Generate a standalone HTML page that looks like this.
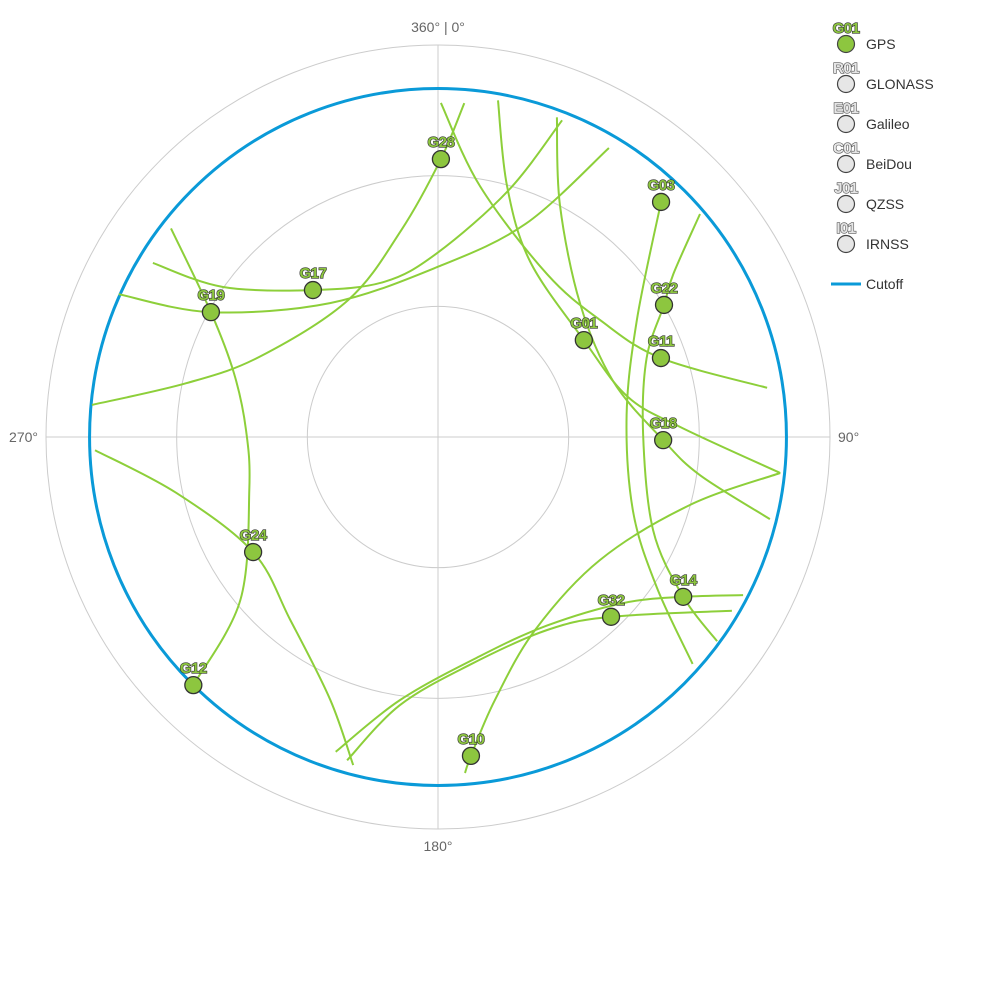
<!DOCTYPE html>
<html><head><meta charset="utf-8"><style>
body{margin:0;background:#fff;}
svg{display:block;font-family:"Liberation Sans",Arial,sans-serif;}
.lbl{font-weight:bold;font-size:15px;fill:#8dc63f;stroke:#333;stroke-width:1.2px;paint-order:stroke;letter-spacing:-0.5px}
.glbl{font-weight:bold;font-size:15px;fill:#e6e6e6;stroke:#555;stroke-width:1.2px;paint-order:stroke;letter-spacing:-0.5px}
</style></head><body>
<svg id="chart" width="1000" height="1000" viewBox="0 0 1000 1000">
<g id="grid"></g>
<g id="tracks"></g>
<g id="sats"></g>
<g id="legend"></g>
</svg>
<script>
const cx=438, cy=437, R=392;
const ringElevations=[60,30,0];
const cutoffElevation=10;
const azimuthLabels=["360° | 0°","90°","180°","270°"];
const satNames=["G28","G03","G22","G01","G11","G18","G14","G32","G10","G12","G24","G19","G17"];
const satAz=[0.6,43.5,59.7,56.4,70.5,90.8,123.1,136.1,174.1,224.6,238.1,298.8,319.6];
const satEl=[26.2,15.6,29.9,49.8,35.7,38.3,22.8,32.7,16.4,10.0,40.0,30.5,45.7];
const trackG28Az=[4.5,0.6,349.9,326.7,294.1,282.1,275.3];
const trackG28El=[13.1,26.2,41.8,52.4,45.0,31.0,10.2];
const trackG17Az=[301.4,304.9,319.6,340.8,359.7,16.0,21.4];
const trackG17El=[13.3,29.8,45.7,52.3,47.8,31.0,11.9];
const trackG19Az=[294.1,298.8,321.1,359.7,22.4,30.6];
const trackG19El=[9.7,30.5,50.5,51.0,37.0,12.9];
const trackG12Az=[308.0,298.8,287.4,272.1,254.3,230.5,224.6];
const trackG12El=[12.2,30.5,40.9,45.9,45.0,31.2,10.0];
const trackG24Az=[267.8,258.0,238.1,218.9,202.3,194.5];
const trackG24El=[11.2,28.5,40.0,36.0,24.8,12.2];
const trackG11Az=[0.5,9.5,33.8,54.2,70.5,81.5];
const trackG11El=[13.3,31.6,45.0,44.1,35.7,13.6];
const trackG01Az=[10.1,15.4,27.7,56.4,77.8,87.6,96.0];
const trackG01El=[11.5,30.3,44.5,49.8,45.6,34.4,11.0];
const trackG18Az=[20.4,27.7,46.9,72.3,90.8,98.3,103.9];
const trackG18El=[11.7,29.8,45.3,47.8,38.3,29.2,11.5];
const trackG10Az=[96.0,105.1,127.2,153.3,167.8,174.1,175.4];
const trackG10El=[11.0,30.1,43.3,40.4,28.2,16.4,12.6];
const trackG03Az=[43.5,59.5,83.4,110.8,124.4,131.7];
const trackG03El=[15.6,37.0,46.4,42.1,29.2,11.7];
const trackG22Az=[49.6,55.3,59.7,69.3,89.2,113.4,123.1,126.2];
const trackG22El=[11.0,24.3,29.9,38.8,42.9,36.2,22.8,10.6];
const trackG14Az=[117.4,123.1,131.9,150.0,169.1,188.2,198.0];
const trackG14El=[11.1,22.8,32.9,40.0,38.8,29.0,14.0];
const trackG32Az=[120.6,136.1,150.5,172.0,188.1,195.7];
const trackG32El=[11.6,32.7,39.1,37.2,27.8,12.9];
const trackNames=["G28","G17","G19","G12","G24","G11","G01","G18","G10","G03","G22","G14","G32"];
const trackAz=[trackG28Az,trackG17Az,trackG19Az,trackG12Az,trackG24Az,trackG11Az,trackG01Az,trackG18Az,trackG10Az,trackG03Az,trackG22Az,trackG14Az,trackG32Az];
const trackEl=[trackG28El,trackG17El,trackG19El,trackG12El,trackG24El,trackG11El,trackG01El,trackG18El,trackG10El,trackG03El,trackG22El,trackG14El,trackG32El];
const legendLabels=["G01","R01","E01","C01","J01","I01"];
const legendNames=["GPS","GLONASS","Galileo","BeiDou","QZSS","IRNSS"];

const NS="http://www.w3.org/2000/svg";
function rScale(el){return R*(90-el)/90;}
function px(az,el){const r=rScale(el),a=az*Math.PI/180;return [cx+r*Math.sin(a),cy-r*Math.cos(a)];}
function mk(tag,attrs,parent){const e=document.createElementNS(NS,tag);for(const k in attrs)e.setAttribute(k,attrs[k]);parent.appendChild(e);return e;}

const grid=document.getElementById('grid');
ringElevations.forEach(el=>{
  const c=mk('circle',{cx:cx,cy:cy,r:rScale(el),fill:'none',stroke:'#ccc','stroke-width':1},grid);
  
  
});
const h=mk('line',{x1:cx-R,y1:cy,x2:cx+R,y2:cy,stroke:'#ccc'},grid);


const v=mk('line',{x1:cx,y1:cy-R,x2:cx,y2:cy+R,stroke:'#ccc'},grid);


const lp=[[cx,cy-R-13,'middle'],[cx+R+8,cy+5,'start'],[cx,cy+R+22,'middle'],[cx-R-8,cy+5,'end']];
azimuthLabels.forEach((t,i)=>{
  const e=mk('text',{x:lp[i][0],y:lp[i][1],'text-anchor':lp[i][2],'font-size':14,fill:'#666'},grid);
  e.textContent=t;
  
  
});
const cut=mk('circle',{cx:cx,cy:cy,r:rScale(cutoffElevation),fill:'none',stroke:'#0a9ad8','stroke-width':3},grid);



const tg=document.getElementById('tracks');
trackAz.forEach((azs,i)=>{
  const p=azs.map((a,j)=>px(a,trackEl[i][j]));
  let d='M'+p[0][0].toFixed(1)+','+p[0][1].toFixed(1);
  for(let j=0;j<p.length-1;j++){
    const p0=p[Math.max(j-1,0)],p1=p[j],p2=p[j+1],p3=p[Math.min(j+2,p.length-1)];
    const c1=[p1[0]+(p2[0]-p0[0])/6,p1[1]+(p2[1]-p0[1])/6];
    const c2=[p2[0]-(p3[0]-p1[0])/6,p2[1]-(p3[1]-p1[1])/6];
    d+=' C'+c1.map(n=>n.toFixed(1))+' '+c2.map(n=>n.toFixed(1))+' '+p2.map(n=>n.toFixed(1));
  }
  const path=mk('path',{d:d,fill:'none',stroke:'#8dcf3a','stroke-width':2},tg);
  
  
});

const sg=document.getElementById('sats');
satNames.forEach((n,i)=>{
  const [x,y]=px(satAz[i],satEl[i]);
  const c=mk('circle',{cx:x,cy:y,r:8.5,fill:'#8dc63f',stroke:'#333','stroke-width':1.3},sg);
  
  
  const t=mk('text',{x:x,y:y-12,'text-anchor':'middle',class:'lbl'},sg);
  t.textContent=n;
  
  
});

const lg=document.getElementById('legend');
legendNames.forEach((n,i)=>{
  const y=44+i*40;
  const g=mk('g',{},lg);
  
  
  const c=mk('circle',{cx:846,cy:y,r:8.5,fill:i==0?'#8dc63f':'#e6e6e6',stroke:'#444','stroke-width':1.2},g);
  
  
  const l=mk('text',{x:846,y:y-11,'text-anchor':'middle',class:i==0?'lbl':'glbl'},g);
  l.textContent=legendLabels[i];
  
  
  const t=mk('text',{x:866,y:y+5,'font-size':14,fill:'#333'},g);
  t.textContent=n;
  
  
});
const cg=mk('g',{},lg);


const cl=mk('line',{x1:831,y1:284,x2:861,y2:284,stroke:'#0a9ad8','stroke-width':3},cg);


const ct=mk('text',{x:866,y:289,'font-size':14,fill:'#333'},cg);
ct.textContent='Cutoff';


</script>
</body></html>
